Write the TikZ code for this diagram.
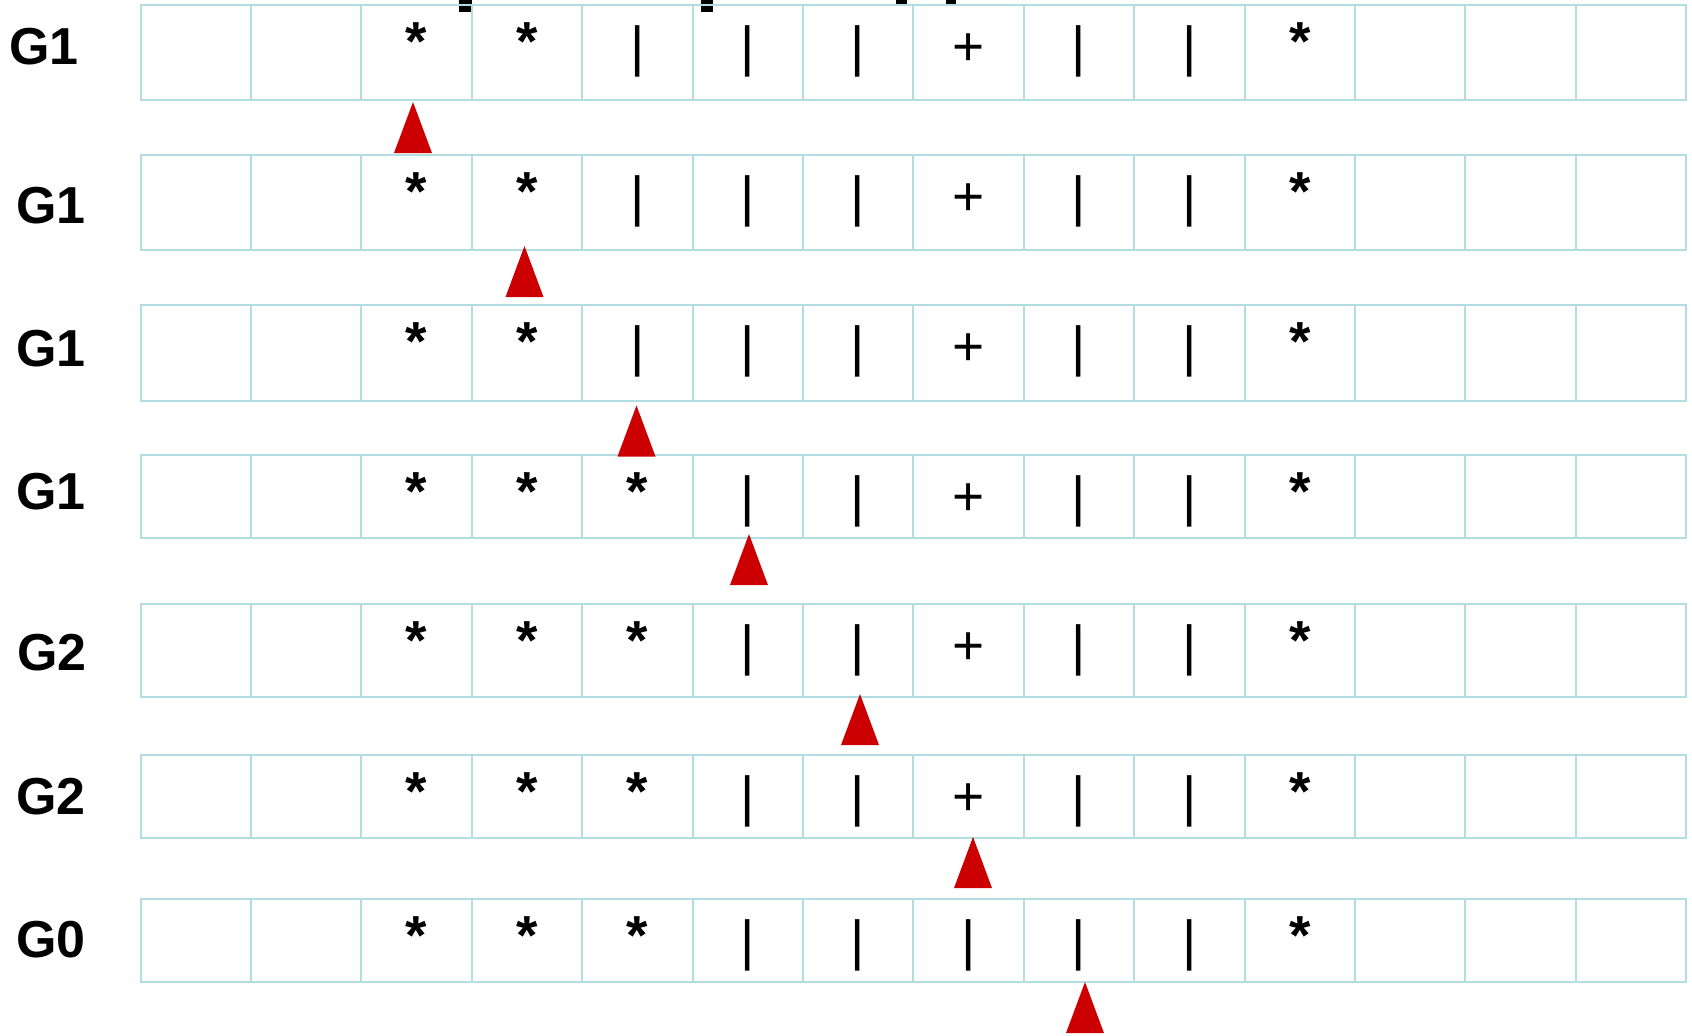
\documentclass[tikz,border=0pt]{standalone}
\usepackage{fontspec}
\setmainfont{Liberation Sans}
\definecolor{gridblue}{RGB}{178,221,226}
\definecolor{ptrred}{RGB}{204,0,0}
\newcommand{\starmark}{\raisebox{2.5pt}{\bfseries *}}
\tikzset{
  cell/.style={draw=gridblue,line width=1pt},
  sym/.style={anchor=base,inner sep=0pt,font=\fontsize{27.5}{30}\selectfont},
  tag/.style={inner sep=0pt,font=\fontsize{26}{28}\selectfont\bfseries},
  ptr/.style={fill=ptrred}
}
\begin{document}
\begin{tikzpicture}[x=0.5pt,y=-0.5pt]
            \useasboundingbox (0,0) rectangle (1692,1035);
            \fill (459,0) rectangle (472,12); \fill (701,0) rectangle (713,12); \fill (896,0) rectangle (907,6); \fill (946,0) rectangle (956,6);
            \foreach \r/\rowtop/\rowbot/\lx/\ly/\g in {1/5/100/44/47/G1,2/155/250/51/206/G1,3/305/401/51/349/G1,4/455/538/51/492/G1,5/604/697/52/653/G2,6/755/838/51/797/G2,7/899/982/51/940/G0}{
              \foreach \c in {0,...,13} \draw[cell] ({140.5+110.4*\c},\rowtop) rectangle ({140.5+110.4*(\c+1)},\rowbot);
              \node[tag] (lab\r) at (\lx,\ly) {\g};
            }
            \foreach \r/\rowtop in {1/5,2/155,3/305}
              \foreach \c/\s in {2/\starmark,3/\starmark,4/|,5/|,6/|,7/+,8/|,9/|,10/\starmark}
                \node[sym] (s\r-\c) at ({140.5+110.4*(\c+0.5)},\rowtop+60) {\s};
            \foreach \r/\rowtop in {4/455,5/604,6/755}
              \foreach \c/\s in {2/\starmark,3/\starmark,4/\starmark,5/|,6/|,7/+,8/|,9/|,10/\starmark}
                \node[sym] (s\r-\c) at ({140.5+110.4*(\c+0.5)},\rowtop+60) {\s};
            \foreach \c/\s in {2/\starmark,3/\starmark,4/\starmark,5/|,6/|,7/|,8/|,9/|,10/\starmark}
              \node[sym] (s7-\c) at ({140.5+110.4*(\c+0.5)},959) {\s};
            \foreach \ax/\ay in {413/102,524.5/246,636.5/405.5,749/534,860/694,973/837,1085/982}
              \fill[ptr] (\ax,\ay) -- ++(19,51) -- ++(-38,0) -- cycle;
\end{tikzpicture}
\end{document}
